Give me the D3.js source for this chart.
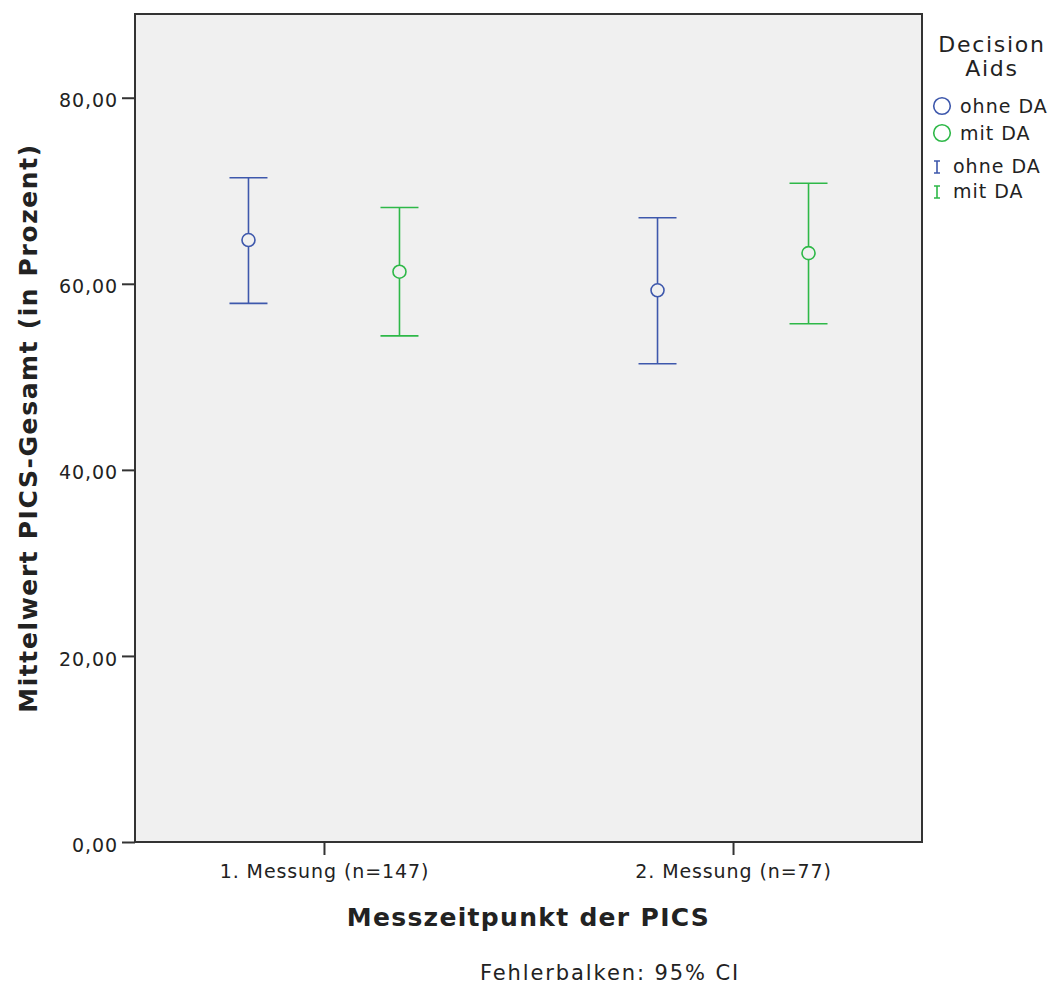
<!DOCTYPE html>
<html>
<head>
<meta charset="utf-8">
<script src="https://cdn.jsdelivr.net/npm/d3@7"></script>
<style>
  body { margin: 0; background: #fff; }
  svg text { font-family: "DejaVu Sans", sans-serif; fill: #222; }
</style>
</head>
<body>
<div id="chart"></div>
<script>
// data
const categories = ["1. Messung (n=147)", "2. Messung (n=77)"]
const groups = ["ohne DA", "mit DA"]
const means = [[64.7, 61.3], [59.3, 63.3]]
const ciLow = [[57.9, 54.4], [51.4, 55.7]]
const ciHigh = [[71.4, 68.2], [67.1, 70.8]]
const yTicks = [0, 20, 40, 60, 80]

const colors = { "ohne DA": "#3e58ac", "mit DA": "#2eb848" }

const dims = {
  width: 1052,
  height: 985,
  margin: { top: 14, left: 135, right: 130, bottom: 143 }
}
dims.ctrWidth = dims.width - dims.margin.left - dims.margin.right
dims.ctrHeight = dims.height - dims.margin.top - dims.margin.bottom

const svg = d3.select('#chart').append('svg')
  .attr('width', dims.width)
  .attr('height', dims.height)

const ctr = svg.append('g')
  .attr('transform', `translate(${dims.margin.left}, ${dims.margin.top})`)

// scales
const xScale = d3.scalePoint()
  .domain(categories)
  .range([0, dims.ctrWidth])
  .padding(0.462)

const offset = d3.scalePoint()
  .domain(groups)
  .range([-75.5, 75.5])

const yScale = d3.scaleLinear()
  .domain([0, 89])
  .range([dims.ctrHeight, 0])

// plot background
ctr.append('rect')
  .attr('width', dims.ctrWidth)
  .attr('height', dims.ctrHeight)
  .attr('fill', '#f0f0f0')
  .attr('stroke', '#333')
  .attr('stroke-width', 2)

// axes
const yAxis = d3.axisLeft(yScale)
  .tickValues(yTicks)
  .tickSize(13)
  .tickFormat(d => d3.format('.2f')(d).replace('.', ','))
const yAxisGroup = ctr.append('g').call(yAxis)
yAxisGroup.select('.domain').remove()
yAxisGroup.selectAll('line').attr('stroke', '#333').attr('stroke-width', 2)
yAxisGroup.selectAll('text')
  .attr('font-size', 19)
  .attr('letter-spacing', 0.9)
  .attr('x', -17)
  .attr('dy', '0.48em')
  .attr('fill', '#333')

const xAxis = d3.axisBottom(xScale).tickSize(13)
const xAxisGroup = ctr.append('g')
  .attr('transform', `translate(0, ${dims.ctrHeight})`)
  .call(xAxis)
xAxisGroup.select('.domain').remove()
xAxisGroup.selectAll('line').attr('stroke', '#333').attr('stroke-width', 2)
xAxisGroup.selectAll('text')
  .attr('font-size', 19)
  .attr('letter-spacing', 0.9)
  .attr('y', 36)
  .attr('dy', 0)
  .attr('fill', '#333')

// flatten data
const rows = []
categories.forEach((c, i) => {
  groups.forEach((g, j) => {
    rows.push({ cat: c, group: g, mean: means[i][j], lo: ciLow[i][j], hi: ciHigh[i][j] })
  })
})
const xPos = d => xScale(d.cat) + offset(d.group)

const bars = ctr.selectAll('.bar')
  .data(rows)
  .join('g')
  .attr('class', 'bar')
  .attr('stroke', d => colors[d.group])
  .attr('stroke-width', 1.6)
  .attr('fill', 'none')

bars.append('line')
  .attr('x1', xPos).attr('x2', xPos)
  .attr('y1', d => yScale(d.lo)).attr('y2', d => yScale(d.hi))
bars.append('line')
  .attr('x1', d => xPos(d) - 19).attr('x2', d => xPos(d) + 19)
  .attr('y1', d => yScale(d.hi)).attr('y2', d => yScale(d.hi))
bars.append('line')
  .attr('x1', d => xPos(d) - 19).attr('x2', d => xPos(d) + 19)
  .attr('y1', d => yScale(d.lo)).attr('y2', d => yScale(d.lo))
bars.append('circle')
  .attr('cx', xPos)
  .attr('cy', d => yScale(d.mean))
  .attr('r', 6.5)
  .attr('fill', '#f0f0f0')

// axis titles
svg.append('text')
  .attr('transform', `translate(37, ${dims.margin.top + dims.ctrHeight / 2}) rotate(-90)`)
  .attr('text-anchor', 'middle')
  .attr('font-size', 25)
  .attr('letter-spacing', 1.6)
  .attr('font-weight', 'bold')
  .text('Mittelwert PICS-Gesamt (in Prozent)')

svg.append('text')
  .attr('x', dims.margin.left + dims.ctrWidth / 2)
  .attr('y', 926)
  .attr('text-anchor', 'middle')
  .attr('font-size', 25)
  .attr('letter-spacing', 1.3)
  .attr('font-weight', 'bold')
  .text('Messzeitpunkt der PICS')

svg.append('text')
  .attr('x', 610)
  .attr('y', 980)
  .attr('text-anchor', 'middle')
  .attr('font-size', 21)
  .attr('letter-spacing', 1.9)
  .attr('fill', '#333')
  .text('Fehlerbalken: 95% CI')

// legend
const legend = svg.append('g')
legend.append('text')
  .attr('x', 992).attr('y', 52)
  .attr('text-anchor', 'middle').attr('font-size', 22)
  .attr('letter-spacing', 1.7)
  .text('Decision')
legend.append('text')
  .attr('x', 992).attr('y', 76)
  .attr('text-anchor', 'middle').attr('font-size', 22)
  .attr('letter-spacing', 1.7)
  .text('Aids')

const circleItems = legend.selectAll('.lc')
  .data(groups)
  .join('g')
  .attr('class', 'lc')
  .attr('transform', (d, i) => `translate(942, ${106 + i * 27})`)
circleItems.append('circle')
  .attr('r', 8.3)
  .attr('fill', 'none')
  .attr('stroke', d => colors[d])
  .attr('stroke-width', 1.6)
circleItems.append('text')
  .attr('x', 18).attr('y', 7)
  .attr('font-size', 19)
  .attr('letter-spacing', 1)
  .text(d => d)

const barItems = legend.selectAll('.lb')
  .data(groups)
  .join('g')
  .attr('class', 'lb')
  .attr('transform', (d, i) => `translate(937, ${167 + i * 25})`)
barItems.append('path')
  .attr('d', 'M-3,-6H3M0,-6V6M-3,6H3')
  .attr('fill', 'none')
  .attr('stroke', d => colors[d])
  .attr('stroke-width', 1.6)
barItems.append('text')
  .attr('x', 16).attr('y', 6)
  .attr('font-size', 19)
  .attr('letter-spacing', 1)
  .text(d => d)
</script>
</body>
</html>
